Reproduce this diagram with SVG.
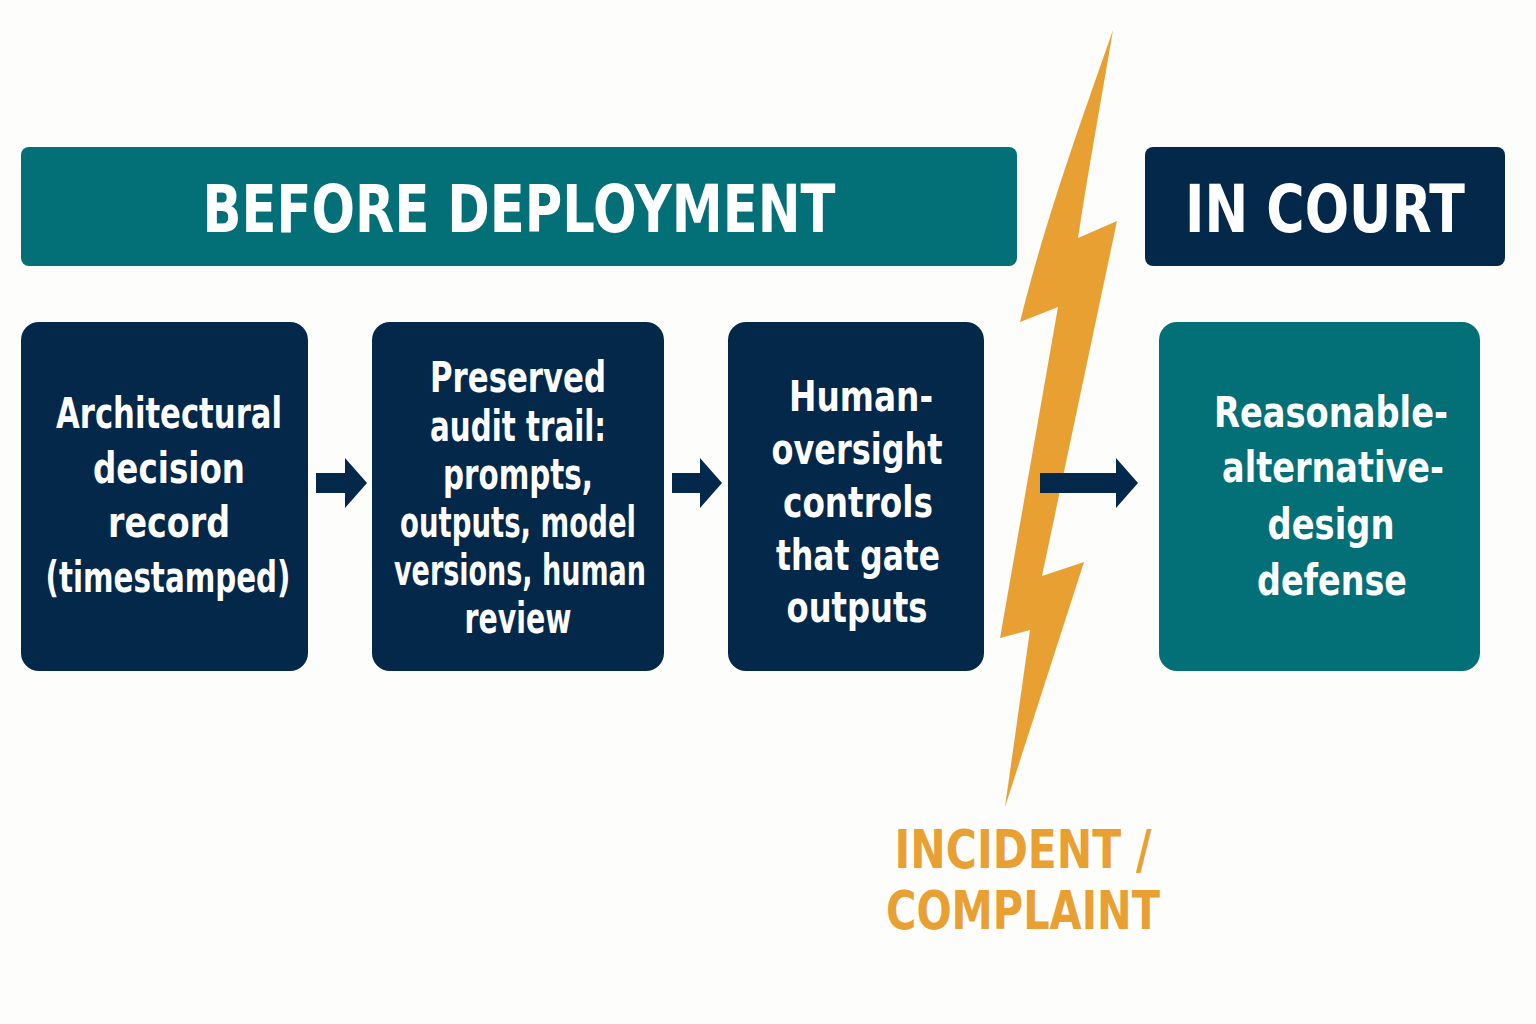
<svg xmlns="http://www.w3.org/2000/svg" width="1536" height="1024" viewBox="0 0 1536 1024">
<style>
.t{font-family:"DejaVu Sans","Liberation Sans",sans-serif;font-weight:bold;fill:#fff;text-anchor:middle}
.h{font-size:66px}
.b{font-size:42px}
.o{font-family:"DejaVu Sans","Liberation Sans",sans-serif;font-weight:bold;fill:#E9A033;text-anchor:middle;font-size:54px}
.navy{fill:#03284A}
.teal{fill:#036F77}
</style>
<defs>
<marker id="ah" viewBox="0 0 10 10" refX="0" refY="5" markerWidth="1.1" markerHeight="2.5" preserveAspectRatio="none" markerUnits="strokeWidth" orient="auto"><path d="M0,0L10,5L0,10z" fill="#03284A"/></marker>
</defs>
<rect width="1536" height="1024" fill="#FDFDFB"/>
<g id="header-before"><rect class="teal" x="21" y="147" width="996" height="119" rx="8"/><text class="t h" x="519" y="232" textLength="633" lengthAdjust="spacingAndGlyphs">BEFORE DEPLOYMENT</text></g>
<g id="header-court"><rect class="navy" x="1145" y="147" width="360" height="119" rx="8"/><text class="t h" x="1325" y="232" textLength="280" lengthAdjust="spacingAndGlyphs">IN COURT</text></g>
<g id="bolt"><path d="M1113,30 C1085,110 1045,220 1020,322 L1058,307 L1000,638 L1030,630 L1005,807 L1084,562 L1042,576 L1117,221 L1078,238 C1090,160 1103,90 1113,30 Z" fill="#E9A033"/></g>
<g id="connectors" stroke="#03284A" stroke-width="20" fill="none">
<line x1="316" y1="483" x2="345" y2="483" marker-end="url(#ah)"/>
<line x1="672" y1="483" x2="700" y2="483" marker-end="url(#ah)"/>
<line x1="1040" y1="483" x2="1116" y2="483" marker-end="url(#ah)"/>
</g>
<g id="n1"><rect class="navy" x="21" y="322" width="287" height="349" rx="18"/>
<text class="t b" x="169" y="428" textLength="226" lengthAdjust="spacingAndGlyphs">Architectural</text><text class="t b" x="169" y="483" textLength="152" lengthAdjust="spacingAndGlyphs">decision</text><text class="t b" x="169" y="537" textLength="122" lengthAdjust="spacingAndGlyphs">record</text><text class="t b" x="168" y="592" textLength="245" lengthAdjust="spacingAndGlyphs">(timestamped)</text></g>
<g id="n2"><rect class="navy" x="372" y="322" width="292" height="349" rx="18"/>
<text class="t b" x="518" y="392" textLength="176" lengthAdjust="spacingAndGlyphs">Preserved</text><text class="t b" x="518" y="441" textLength="176" lengthAdjust="spacingAndGlyphs">audit trail:</text><text class="t b" x="518" y="489" textLength="150" lengthAdjust="spacingAndGlyphs">prompts,</text><text class="t b" x="518" y="537" textLength="236" lengthAdjust="spacingAndGlyphs">outputs, model</text><text class="t b" x="520" y="585" textLength="252" lengthAdjust="spacingAndGlyphs">versions, human</text><text class="t b" x="518" y="633" textLength="107" lengthAdjust="spacingAndGlyphs">review</text></g>
<g id="n3"><rect class="navy" x="728" y="322" width="256" height="349" rx="18"/>
<text class="t b" x="861" y="411" textLength="144" lengthAdjust="spacingAndGlyphs">Human-</text><text class="t b" x="857" y="464" textLength="171" lengthAdjust="spacingAndGlyphs">oversight</text><text class="t b" x="858" y="517" textLength="150" lengthAdjust="spacingAndGlyphs">controls</text><text class="t b" x="858" y="570" textLength="164" lengthAdjust="spacingAndGlyphs">that gate</text><text class="t b" x="857" y="622" textLength="141" lengthAdjust="spacingAndGlyphs">outputs</text></g>
<g id="n4"><rect class="teal" x="1159" y="322" width="321" height="349" rx="18"/>
<text class="t b" x="1331" y="427" textLength="234" lengthAdjust="spacingAndGlyphs">Reasonable-</text><text class="t b" x="1333" y="482" textLength="222" lengthAdjust="spacingAndGlyphs">alternative-</text><text class="t b" x="1331" y="539" textLength="127" lengthAdjust="spacingAndGlyphs">design</text><text class="t b" x="1332" y="595" textLength="150" lengthAdjust="spacingAndGlyphs">defense</text></g>
<g id="incident"><text class="o" x="1023" y="868" textLength="257" lengthAdjust="spacingAndGlyphs">INCIDENT /</text><text class="o" x="1023" y="929" textLength="274" lengthAdjust="spacingAndGlyphs">COMPLAINT</text></g>
</svg>
